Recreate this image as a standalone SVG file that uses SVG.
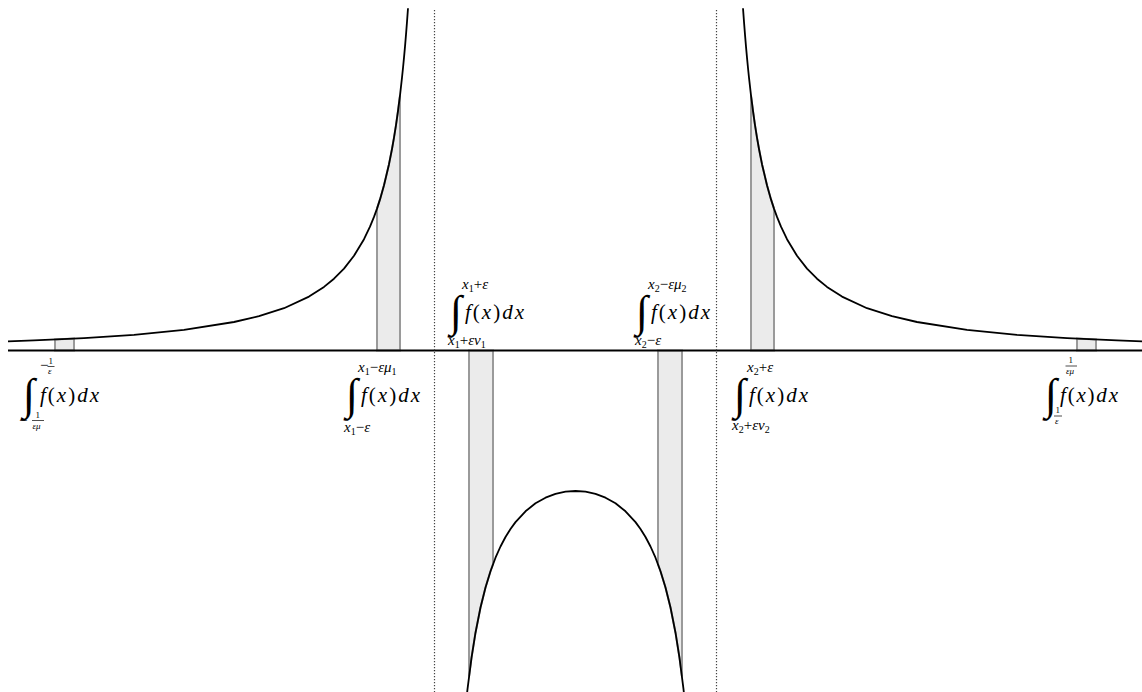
<svg xmlns="http://www.w3.org/2000/svg" width="1142" height="692" viewBox="0 0 1142 692">
<style>
.curve{fill:none;stroke:#000;stroke-width:1.8;stroke-linejoin:round}
.shade{fill:#ebebeb;stroke:#9a9a9a;stroke-width:2}
.axis{stroke:#000;stroke-width:2}
.dot{stroke:#444;stroke-width:1.2;stroke-dasharray:1.3 1.7}
text{font-family:"Liberation Serif","Times New Roman",serif;fill:#000}
.fx{font-size:21px}
.it{font-style:italic}
.lim{font-size:15px}
.sub{font-size:10px}
.int{font-size:44px}
.fr{font-size:9px}
.bar{stroke:#000;stroke-width:0.7}
</style>
<rect width="1142" height="692" fill="#fff"/>
<g id="shading">
<path class="shade" d="M55,350.5 L55,339.5 L74,338.6 L74,350.5 Z"/>
<path class="shade" d="M1077,350.5 L1077,338.6 L1096,339.5 L1096,350.5 Z"/>
<path class="shade" d="M377,350.5 L377,208.6 L380,199.4 L384,185.3 L389,164.2 L392,149 L394,137.7 L396,125.1 L398,111 L400,95.3 L400,350.5 Z"/>
<path class="shade" d="M774,350.5 L774,208.6 L771,199.4 L767,185.3 L762,164.2 L759,149 L757,137.7 L755,125.1 L753,111 L751,95.3 L751,350.5 Z"/>
<path class="shade" d="M469,350.5 L493,350.5 L493,564.1 L490.5,571.2 L485.5,587.5 L480.5,607.5 L475.5,632.7 L471.5,657.8 L469,676.5 Z"/>
<path class="shade" d="M682,350.5 L658,350.5 L658,564.1 L660.5,571.2 L665.5,587.5 L670.5,607.5 L675.5,632.7 L679.5,657.8 L682,676.5 Z"/>
</g>
<g id="axes">
<line class="axis" x1="8" y1="350.5" x2="1142" y2="350.5"/>
<line class="dot" x1="434.5" y1="10" x2="434.5" y2="692"/>
<line class="dot" x1="716.5" y1="10" x2="716.5" y2="692"/>
</g>
<g id="curves">
<path class="curve" d="M8,341.4 L34,340.4 L84,338.1 L134,334.8 L184,329.9 L234,322 L259,316.2 L284,308.2 L309,296.6 L324,286.9 L334,278.7 L344,268.6 L354,255.8 L364,239.2 L370,226.7 L374,216.9 L377,208.6 L380,199.4 L384,185.3 L389,164.2 L392,149 L394,137.7 L396,125.1 L398,111 L400,95.3 L402,77.7 L403,68 L404,57.6 L405,46.6 L406,34.7 L407,21.9 L408,8.2"/>
<path class="curve" d="M1143,341.4 L1117,340.4 L1067,338.1 L1017,334.8 L967,329.9 L917,322 L892,316.2 L867,308.2 L842,296.6 L827,286.9 L817,278.7 L807,268.6 L797,255.8 L787,239.2 L781,226.7 L777,216.9 L774,208.6 L771,199.4 L767,185.3 L762,164.2 L759,149 L757,137.7 L755,125.1 L753,111 L751,95.3 L749,77.7 L748,68 L747,57.6 L746,46.6 L745,34.7 L744,21.9 L743,8.2"/>
<path class="curve" d="M466.5,698.2 L467.5,689.2 L471.5,657.8 L475.5,632.7 L480.5,607.5 L485.5,587.5 L490.5,571.2 L495.5,557.7 L500.5,546.5 L505.5,537 L510.5,529 L515.5,522.1 L525.5,511.3 L535.5,503.3 L545.5,497.7 L555.5,493.9 L565.5,491.7 L575.5,491 L585.5,491.7 L595.5,493.9 L605.5,497.7 L615.5,503.3 L625.5,511.3 L635.5,522.1 L640.5,529 L645.5,537 L650.5,546.5 L655.5,557.7 L660.5,571.2 L665.5,587.5 L670.5,607.5 L675.5,632.7 L679.5,657.8 L683.5,689.2 L684.5,698.2"/>
</g>
<g id="label1">
<text class="int" x="23" y="409">∫</text>
<text class="fx" x="40" y="402" textLength="59"><tspan class="it">f</tspan>(<tspan class="it">x</tspan>)<tspan class="it">dx</tspan></text>
<text class="lim" x="40" y="370">−</text>
<text class="fr" x="48.5" y="364">1</text>
<line class="bar" x1="47.5" y1="366.5" x2="54.5" y2="366.5"/>
<text class="fr it" x="48" y="374">ε</text>
<text class="lim" x="19" y="425">−</text>
<text class="fr" x="35.5" y="418">1</text>
<line class="bar" x1="32" y1="420.5" x2="44" y2="420.5"/>
<text class="fr it" x="32.5" y="429">εμ</text>
</g>
<g id="label2">
<text class="int" x="346" y="409">∫</text>
<text class="fx" x="361" y="402" textLength="59"><tspan class="it">f</tspan>(<tspan class="it">x</tspan>)<tspan class="it">dx</tspan></text>
<text class="lim" x="358" y="372"><tspan class="it">x</tspan><tspan class="sub" dy="3">1</tspan><tspan dy="-3">−</tspan><tspan class="it">εμ</tspan><tspan class="sub" dy="3">1</tspan></text>
<text class="lim" x="344" y="432"><tspan class="it">x</tspan><tspan class="sub" dy="3">1</tspan><tspan dy="-3">−</tspan><tspan class="it">ε</tspan></text>
</g>
<g id="label3">
<text class="int" x="450" y="326">∫</text>
<text class="fx" x="465" y="319" textLength="59"><tspan class="it">f</tspan>(<tspan class="it">x</tspan>)<tspan class="it">dx</tspan></text>
<text class="lim" x="462" y="289"><tspan class="it">x</tspan><tspan class="sub" dy="3">1</tspan><tspan dy="-3">+</tspan><tspan class="it">ε</tspan></text>
<text class="lim" x="448" y="345"><tspan class="it">x</tspan><tspan class="sub" dy="3">1</tspan><tspan dy="-3">+</tspan><tspan class="it">εν</tspan><tspan class="sub" dy="3">1</tspan></text>
</g>
<g id="label4">
<text class="int" x="636" y="326">∫</text>
<text class="fx" x="651" y="319" textLength="59"><tspan class="it">f</tspan>(<tspan class="it">x</tspan>)<tspan class="it">dx</tspan></text>
<text class="lim" x="648" y="289"><tspan class="it">x</tspan><tspan class="sub" dy="3">2</tspan><tspan dy="-3">−</tspan><tspan class="it">εμ</tspan><tspan class="sub" dy="3">2</tspan></text>
<text class="lim" x="635" y="345"><tspan class="it">x</tspan><tspan class="sub" dy="3">2</tspan><tspan dy="-3">−</tspan><tspan class="it">ε</tspan></text>
</g>
<g id="label5">
<text class="int" x="734" y="409">∫</text>
<text class="fx" x="749" y="402" textLength="59"><tspan class="it">f</tspan>(<tspan class="it">x</tspan>)<tspan class="it">dx</tspan></text>
<text class="lim" x="747" y="372"><tspan class="it">x</tspan><tspan class="sub" dy="3">2</tspan><tspan dy="-3">+</tspan><tspan class="it">ε</tspan></text>
<text class="lim" x="732" y="430"><tspan class="it">x</tspan><tspan class="sub" dy="3">2</tspan><tspan dy="-3">+</tspan><tspan class="it">εν</tspan><tspan class="sub" dy="3">2</tspan></text>
</g>
<g id="label6">
<text class="int" x="1045" y="409">∫</text>
<text class="fx" x="1060" y="402" textLength="58"><tspan class="it">f</tspan>(<tspan class="it">x</tspan>)<tspan class="it">dx</tspan></text>
<text class="fr" x="1068.5" y="363">1</text>
<line class="bar" x1="1065.5" y1="366" x2="1077" y2="366"/>
<text class="fr it" x="1066" y="374">εμ</text>
<text class="fr" x="1055.5" y="413">1</text>
<line class="bar" x1="1054" y1="416" x2="1062" y2="416"/>
<text class="fr it" x="1055" y="424">ε</text>
</g>
</svg>
